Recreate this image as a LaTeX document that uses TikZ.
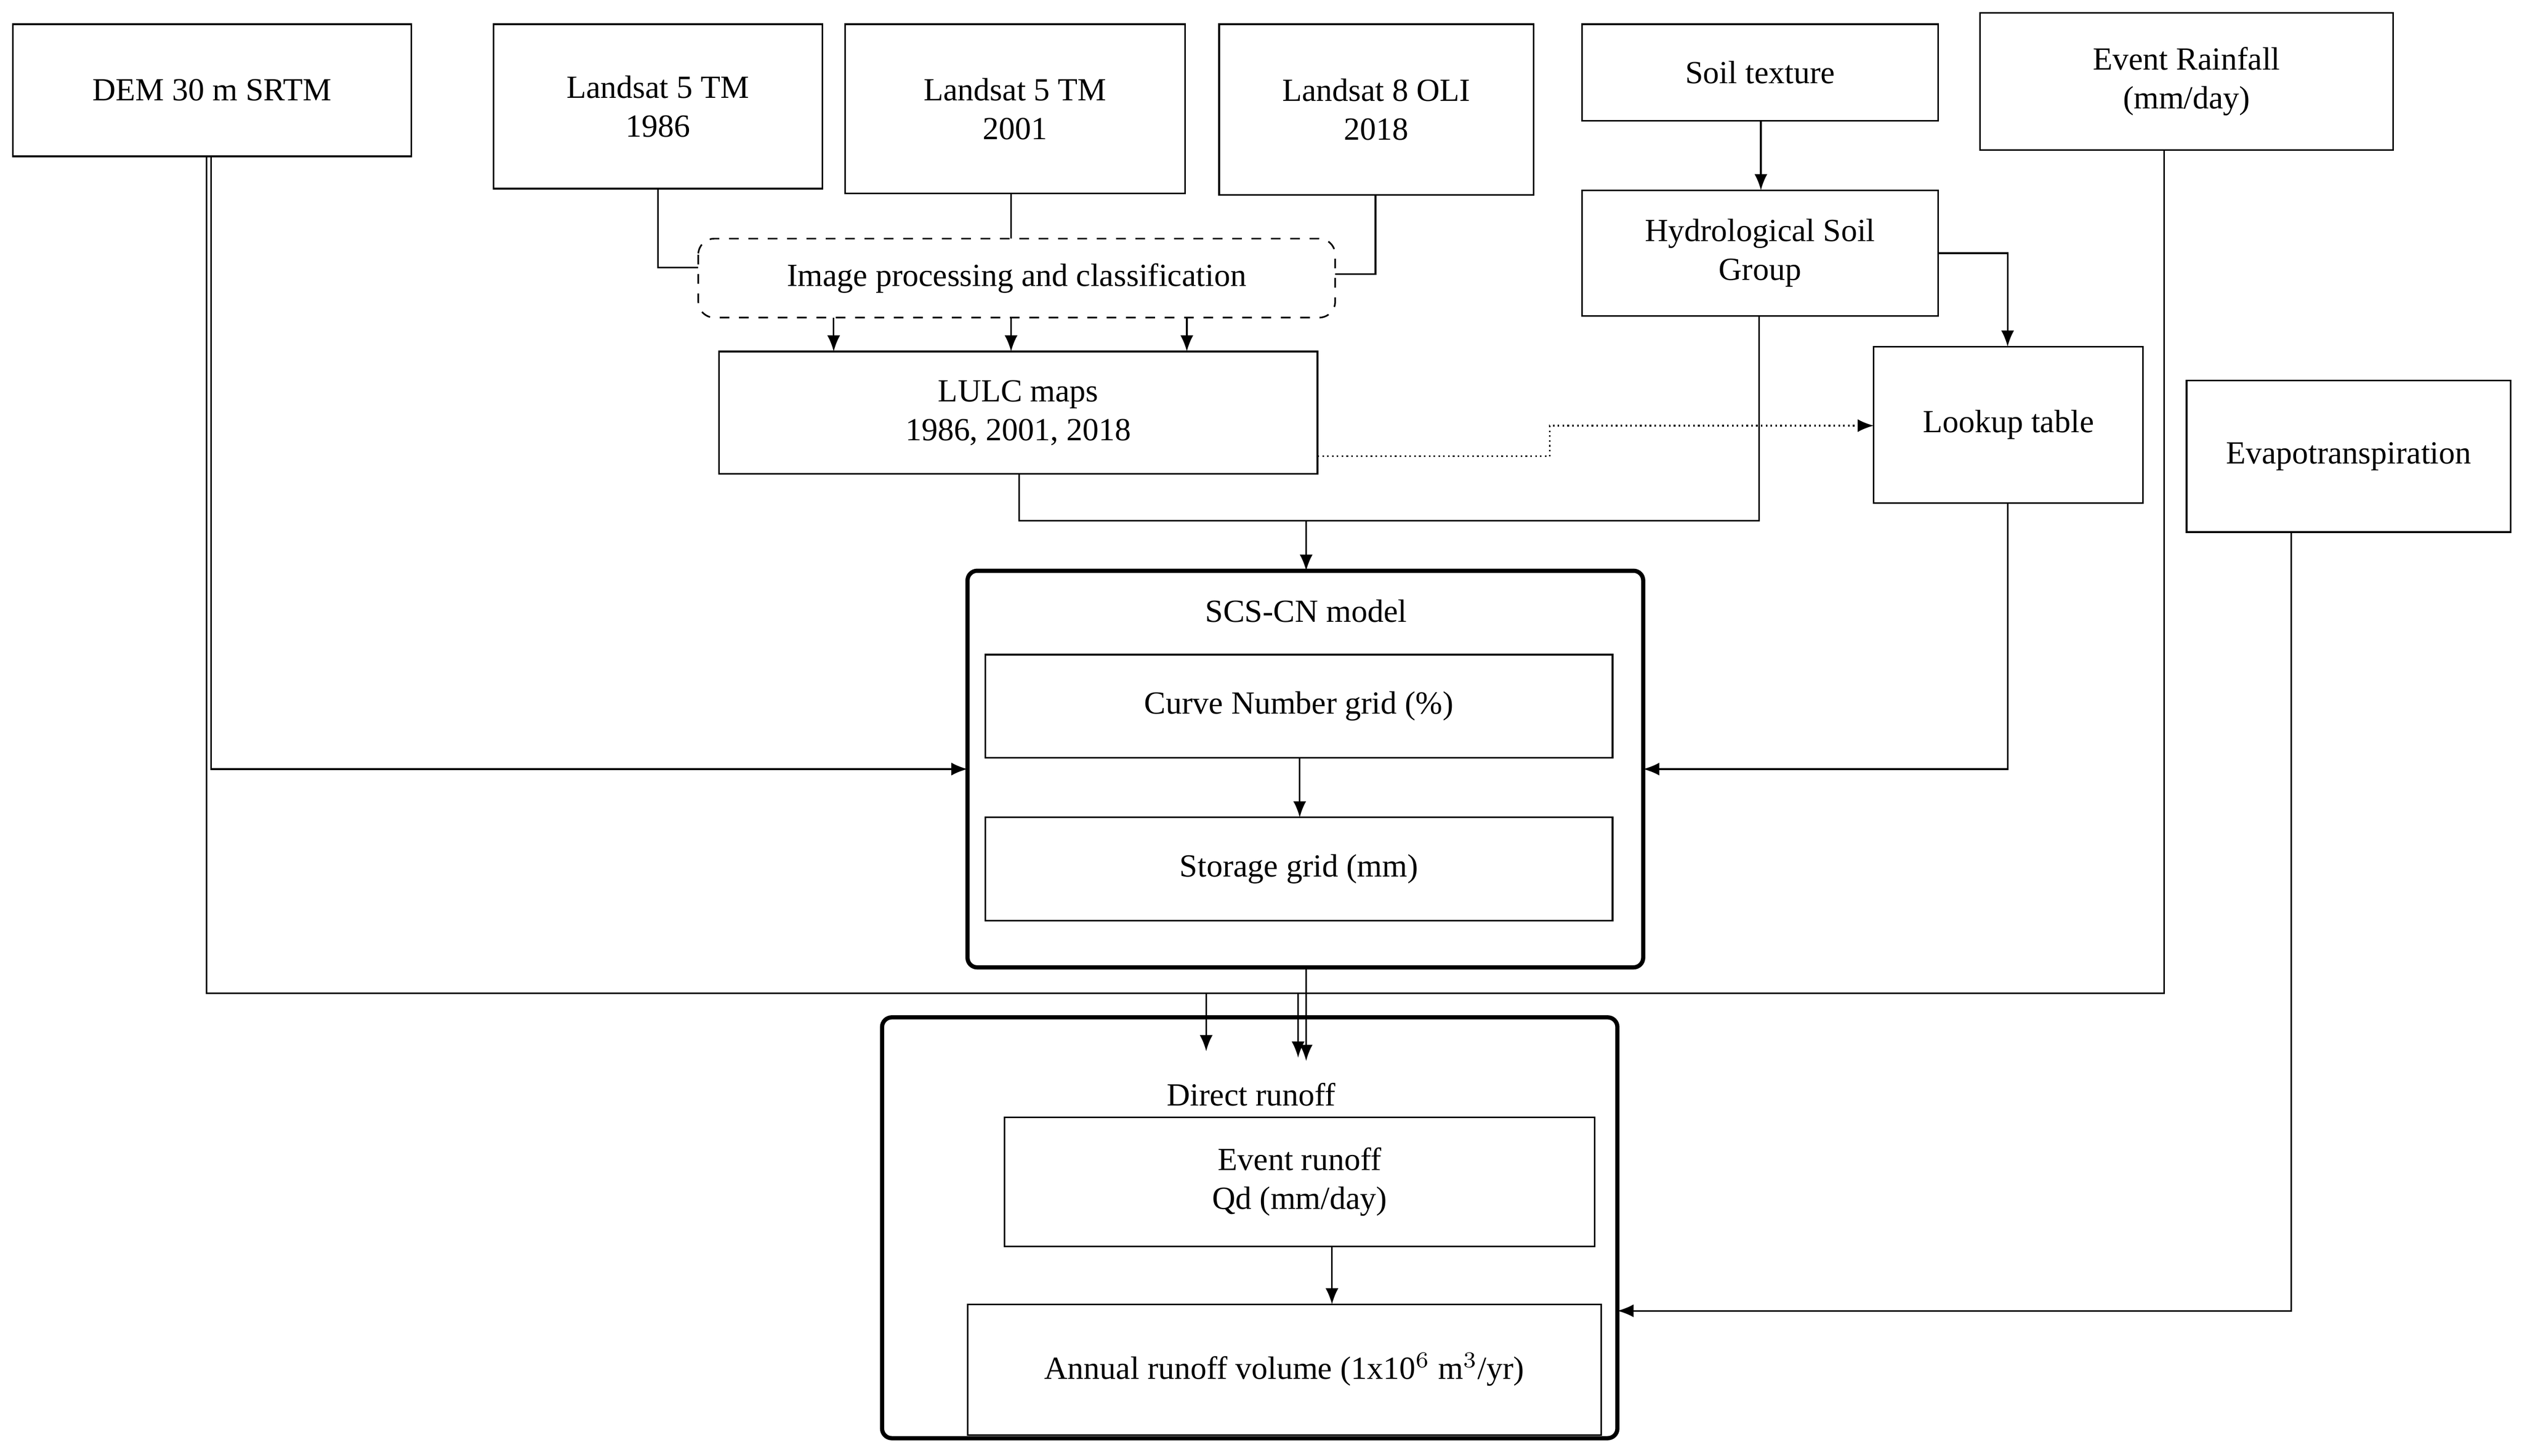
\documentclass[tikz,border=0pt]{standalone}
\usepackage{fontspec}
\setmainfont{Liberation Serif}
\usetikzlibrary{arrows.meta}
\begin{document}
\begin{tikzpicture}[x=0.5pt,y=-0.5pt,
  box/.style={draw,line width=0.5pt,align=center,font=\fontsize{10}{12}\selectfont},
  big/.style={draw,line width=1.3pt,rounded corners=3pt},
  ln/.style={line width=0.5pt},
  ar/.style={line width=0.5pt,-{Latex[length=5pt,width=4pt]}},
  lbl/.style={align=center,font=\fontsize{10}{12}\selectfont}]
\useasboundingbox (0,0) rectangle (1564,903);
\newcommand{\bx}[4]{\draw[box] #2 rectangle #3 node[lbl,midway] (#1) {#4};}
\bx{dem}{(8,15)}{(255,97)}{DEM 30 m SRTM}
\bx{l86}{(306,15)}{(510,117)}{Landsat 5 TM\\1986}
\bx{l01}{(524,15)}{(735,120)}{Landsat 5 TM\\2001}
\bx{l18}{(756,15)}{(951,121)}{Landsat 8 OLI\\2018}
\bx{soil}{(981,15)}{(1202,75)}{Soil texture}
\bx{rain}{(1228,8)}{(1484,93)}{Event Rainfall\\(mm/day)}
\bx{hsg}{(981,118)}{(1202,196)}{Hydrological Soil\\Group}
\draw[box,dashed,rounded corners=5pt] (433,148) rectangle (828,197) node[lbl,midway] (ip) {Image processing and classification};
\bx{lulc}{(446,218)}{(817,294)}{LULC maps\\1986, 2001, 2018}
\bx{look}{(1162,215)}{(1329,312)}{Lookup table}
\bx{evap}{(1356,236)}{(1557,330)}{Evapotranspiration}
\draw[big] (600,354) rectangle (1019,600);
\node[lbl] (scs) at (810,379) {SCS-CN model};
\bx{cn}{(611,406)}{(1000,470)}{Curve Number grid (\%)}
\bx{st}{(611,507)}{(1000,571)}{Storage grid (mm)}
\draw[big] (547,631) rectangle (1003,892);
\node[lbl] (dr) at (776,679) {Direct runoff};
\bx{er}{(623,693)}{(989,773)}{Event runoff\\Qd (mm/day)}
\bx{an}{(600,809)}{(993,890)}{Annual runoff volume (1x10$^{6}$ m$^{3}$/yr)}
% connectors
\draw[ln] (408,117) |- (433,166);
\draw[ln] (627,120) -- (627,148);
\draw[ln] (853,121) |- (828,170);
\foreach \x in {517,627,736} \draw[ar] (\x,197) -- (\x,218);
\draw[ar] (1092,75) -- (1092,118);
\draw[ar] (1202,157) -| (1245,215);
\draw[ln,densely dotted,-{Latex[length=5pt,width=4pt]}] (817,283) -- (961,283) -- (961,264) -- (1162,264);
\draw[ln] (632,294) |- (810,323);
\draw[ln] (1091,196) |- (810,323);
\draw[ar] (810,323) -- (810,354);
\draw[ar] (131,97) |- (600,477);
\draw[ar] (1245,312) |- (1019,477);
\draw[ar] (806,470) -- (806,507);
\draw[ln] (128,97) |- (1342,616) -- (1342,93);
\draw[ar] (748,616) -- (748,652);
\draw[ar] (805,616) -- (805,656);
\draw[ar] (810,600) -- (810,658);
\draw[ar] (826,773) -- (826,809);
\draw[ar] (1421,330) |- (1003,813);
\end{tikzpicture}
\end{document}
